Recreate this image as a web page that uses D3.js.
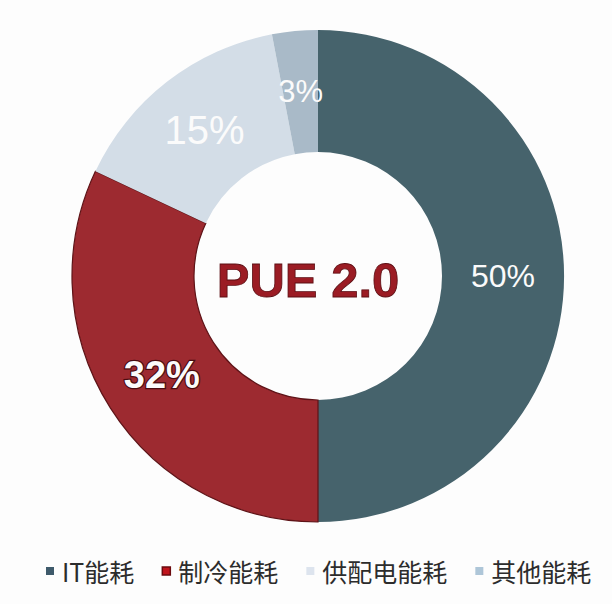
<!DOCTYPE html>
<html>
<head>
<meta charset="utf-8">
<script src="https://cdn.jsdelivr.net/npm/d3@7"></script>
<style>
  html, body { margin: 0; padding: 0; background: #fdfdfd; }
  svg { display: block; }
</style>
</head>
<body>
<div id="chart-area"></div>
<script>
const categories = ['IT能耗', '制冷能耗', '供配电能耗', '其他能耗'];
const shares = [50, 32, 15, 3];
const centerLabel = 'PUE 2.0';

const width = 612;
const height = 604;
const center = {x: 318, y: 276};
const outerRadius = 246;
const innerRadius = 124;

const sliceColor = d3.scaleOrdinal()
  .domain(categories)
  .range(['#46636c', '#9d2a30', '#d3dde7', '#a9bac8']);

const legendColor = d3.scaleOrdinal()
  .domain(categories)
  .range(['#3e5a6b', '#c0141c', '#dde4ee', '#aec6d8']);

// label look per slice
const labelStyle = {
  'IT能耗': {size: 32, weight: 'normal', shadow: false},
  '制冷能耗': {size: 38, weight: 'bold', shadow: true},
  '供配电能耗': {size: 40, weight: 'normal', shadow: false},
  '其他能耗': {size: 31, weight: 'normal', shadow: false}
};

const svg = d3.select('#chart-area').append('svg')
  .attr('width', width)
  .attr('height', height);

svg.append('rect')
  .attr('width', width)
  .attr('height', height)
  .attr('fill', '#fdfdfd');

const data = categories.map((c, i) => ({category: c, value: shares[i]}));

const pie = d3.pie()
  .sort(null)
  .value(d => d.value);

const arc = d3.arc()
  .innerRadius(innerRadius)
  .outerRadius(outerRadius);

const labelArc = d3.arc()
  .innerRadius(185)
  .outerRadius(185);

const donut = svg.append('g')
  .attr('transform', `translate(${center.x}, ${center.y})`);

const arcs = pie(data);

donut.selectAll('path')
  .data(arcs)
  .enter()
  .append('path')
  .attr('d', arc)
  .attr('fill', d => sliceColor(d.data.category))
  .attr('stroke', d => d.data.category === '制冷能耗' ? '#5e1317' : 'none')
  .attr('stroke-width', 1.2);

donut.selectAll('text.pct')
  .data(arcs)
  .enter()
  .append('text')
  .attr('class', 'pct')
  .attr('transform', d => `translate(${labelArc.centroid(d)})`)
  .attr('text-anchor', 'middle')
  .attr('dominant-baseline', 'central')
  .attr('font-family', '"Liberation Sans", Arial, sans-serif')
  .attr('font-size', d => labelStyle[d.data.category].size + 'px')
  .attr('font-weight', d => labelStyle[d.data.category].weight)
  .attr('fill', '#fbfbfb')
  .attr('stroke', d => labelStyle[d.data.category].shadow ? '#4a0c10' : 'none')
  .attr('stroke-width', 2.5)
  .attr('paint-order', 'stroke')
  .text(d => d.data.value + '%');

donut.append('text')
  .attr('x', -10)
  .attr('y', 21)
  .attr('text-anchor', 'middle')
  .attr('font-family', '"Liberation Sans", Arial, sans-serif')
  .attr('font-size', '49px')
  .attr('font-weight', 'bold')
  .attr('fill', '#9b1c24')
  .attr('stroke', '#5a0d12')
  .attr('stroke-width', 0.8)
  .text(centerLabel);

// legend along the bottom
const legend = svg.append('g')
  .attr('transform', 'translate(46, 571)');

let legendX = 0;
categories.forEach(c => {
  const row = legend.append('g')
    .attr('transform', `translate(${legendX}, 0)`);

  row.append('rect')
    .attr('x', 0)
    .attr('y', -4)
    .attr('width', 8)
    .attr('height', 8)
    .attr('fill', legendColor(c))
    .attr('stroke', c === '制冷能耗' ? '#6b0a0e' : 'none')
    .attr('stroke-width', 1.5);

  const label = row.append('text')
    .attr('x', 16)
    .attr('y', 0)
    .attr('dominant-baseline', 'central')
    .attr('font-family', '"Noto Sans CJK SC", sans-serif')
    .attr('font-size', '25px')
    .attr('fill', '#2c2c2c')
    .text(c);

  legendX += 16 + label.node().getComputedTextLength() + 28;
});
</script>
</body>
</html>
